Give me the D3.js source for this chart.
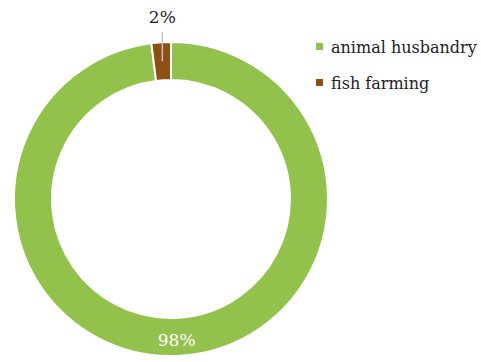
<!DOCTYPE html>
<html>
<head>
<meta charset="utf-8">
<script src="https://cdn.jsdelivr.net/npm/d3@7"></script>
<style>
  html, body { margin: 0; padding: 0; background: #fff; }
  svg { display: block; font-family: "DejaVu Serif", serif; }
</style>
</head>
<body>
<svg id="chart" width="481" height="362"></svg>
<script>
// Share of production by sector (percent)
const categories = ["animal husbandry", "fish farming"];
const shares = [98, 2];
const labels = ["98%", "2%"];
const colors = ["#92c24b", "#8e4f15"];

const svg = d3.select("#chart");
const cx = 171, cy = 199, rOuter = 157, rInner = 119;

const pie = d3.pie().sort(null).value(d => d)(shares);
const arc = d3.arc().innerRadius(rInner).outerRadius(rOuter);

const g = svg.append("g").attr("transform", `translate(${cx},${cy})`);

g.selectAll("path.slice")
  .data(pie)
  .join("path")
  .attr("class", "slice")
  .attr("d", arc)
  .attr("fill", (d, i) => colors[i])
  .attr("stroke", "#fff")
  .attr("stroke-width", 2);

// 98% inside the ring
const big = pie[0];
const [bx, by] = arc.centroid(big);
g.append("text")
  .attr("x", bx - 3).attr("y", by + 3)
  .attr("dy", "0.35em")
  .attr("text-anchor", "middle")
  .attr("fill", "#fff")
  .attr("font-size", 17)
  .text(labels[0]);

// 2% outside with a leader line
const small = pie[1];
const [sx, sy] = arc.centroid(small);
g.append("line")
  .attr("x1", sx).attr("y1", sy)
  .attr("x2", sx).attr("y2", -cy + 32)
  .attr("stroke", "#c0c0c0")
  .attr("stroke-width", 1.5);
g.append("text")
  .attr("x", sx).attr("y", -cy + 23)
  .attr("text-anchor", "middle")
  .attr("fill", "#222")
  .attr("font-size", 17)
  .text(labels[1]);

// Legend
const legend = svg.append("g").attr("transform", "translate(316,43)");
const item = legend.selectAll("g")
  .data(categories)
  .join("g")
  .attr("transform", (d, i) => `translate(0,${i * 36})`);
item.append("rect")
  .attr("width", 7).attr("height", 7)
  .attr("fill", (d, i) => colors[i]);
item.append("text")
  .attr("x", 15).attr("y", 10)
  .attr("font-size", 16)
  .attr("fill", "#222")
  .text(d => d);
</script>
</body>
</html>
